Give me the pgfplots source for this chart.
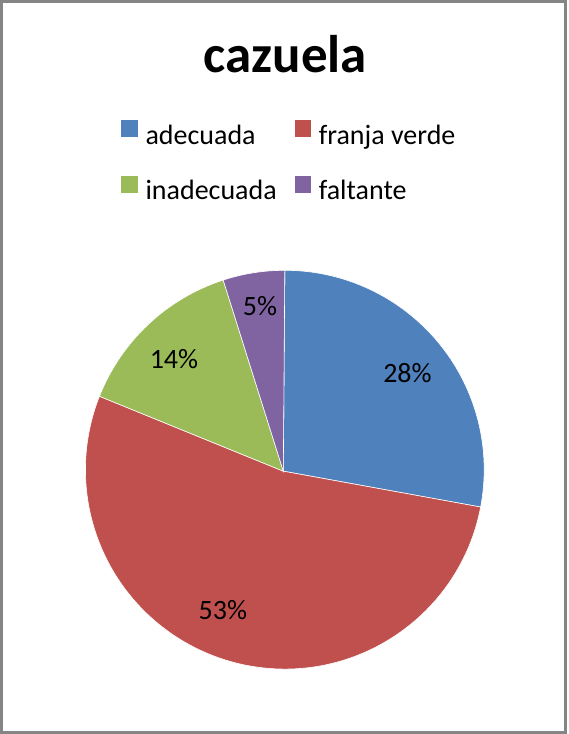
\documentclass[border=0pt]{standalone}
\usepackage{fontspec}
\setmainfont{Carlito}
\usepackage{pgfplots}
\pgfplotsset{compat=1.18}
\definecolor{sliceblue}{HTML}{4F81BD}
\definecolor{slicered}{HTML}{C0504D}
\definecolor{slicegreen}{HTML}{9BBB59}
\definecolor{slicepurple}{HTML}{8064A2}
\definecolor{framegray}{HTML}{858585}
\newcommand\labelfont{\fontsize{28bp}{33bp}\selectfont}
\newcommand\titlefont{\fontsize{53bp}{60bp}\selectfont\bfseries}

% each slice: centre (x,y), value in %, start angle, label angle/radius
\pgfplotsset{
  pie slice/.style={
    scatter, only marks, mark=*, mark size=0pt,
    visualization depends on={value \thisrow{value} \as \val},
    visualization depends on={value \thisrow{start} \as \startang},
    visualization depends on={value \thisrow{lang} \as \labang},
    visualization depends on={value \thisrow{lrad} \as \labrad},
    scatter/@pre marker code/.code={
      \pgfmathsetmacro\endang{\startang-3.6*\val}
      \filldraw[draw=white, line width=0.6bp] (0,0) -- (\startang:199.5bp)
        arc[start angle=\startang, end angle=\endang, radius=199.5bp] -- cycle;
      \node[text=black, font=\labelfont] at (\labang:\labrad bp) {\val\%};
    },
    scatter/@post marker code/.code={},
  },
}

\begin{document}
\begin{tikzpicture}
\path (0,0) rectangle (569bp,734bp);
\begin{axis}[
  at={(1.5bp,1.5bp)}, anchor=south west,
  scale only axis, width=564bp, height=731.5bp,
  xmin=1.5, xmax=565.5, ymin=1.5, ymax=733,
  xtick=\empty, ytick=\empty,
  axis line style={draw=framegray, line width=3bp},
  clip=false,
  legend columns=2,
  legend style={at={(0.2129,0.8374)}, anchor=north west,
    draw=none, fill=none, inner sep=0pt, outer sep=0pt,
    font=\labelfont, cells={anchor=west},
    nodes={inner sep=0pt, text height=20bp, text depth=6bp},
    row sep=26bp,
    /tikz/every odd column/.append style={column sep=7.5bp},
    /tikz/every even column/.append style={column sep=18bp}},
  legend image code/.code={\fill[#1, draw=none] (0bp,0bp) rectangle (16.6bp,16.7bp);},
]
\addplot[pie slice, fill=sliceblue] table {
x y value start lang lrad
285 264.5 28 90 38.1 156
};
\addplot[pie slice, fill=slicered] table {
x y value start lang lrad
285 264.5 53 -10.8 -113.8 153.6
};
\addplot[pie slice, fill=slicegreen] table {
x y value start lang lrad
285 264.5 14 -201.6 135.1 156.6
};
\addplot[pie slice, fill=slicepurple] table {
x y value start lang lrad
285 264.5 5 -252 98.6 166
};
\legend{adecuada, franja verde, inadecuada, faltante}
\node[anchor=base, font=\titlefont] at (axis cs:285.5,662.3) {cazuela};
\end{axis}
\end{tikzpicture}
\end{document}
